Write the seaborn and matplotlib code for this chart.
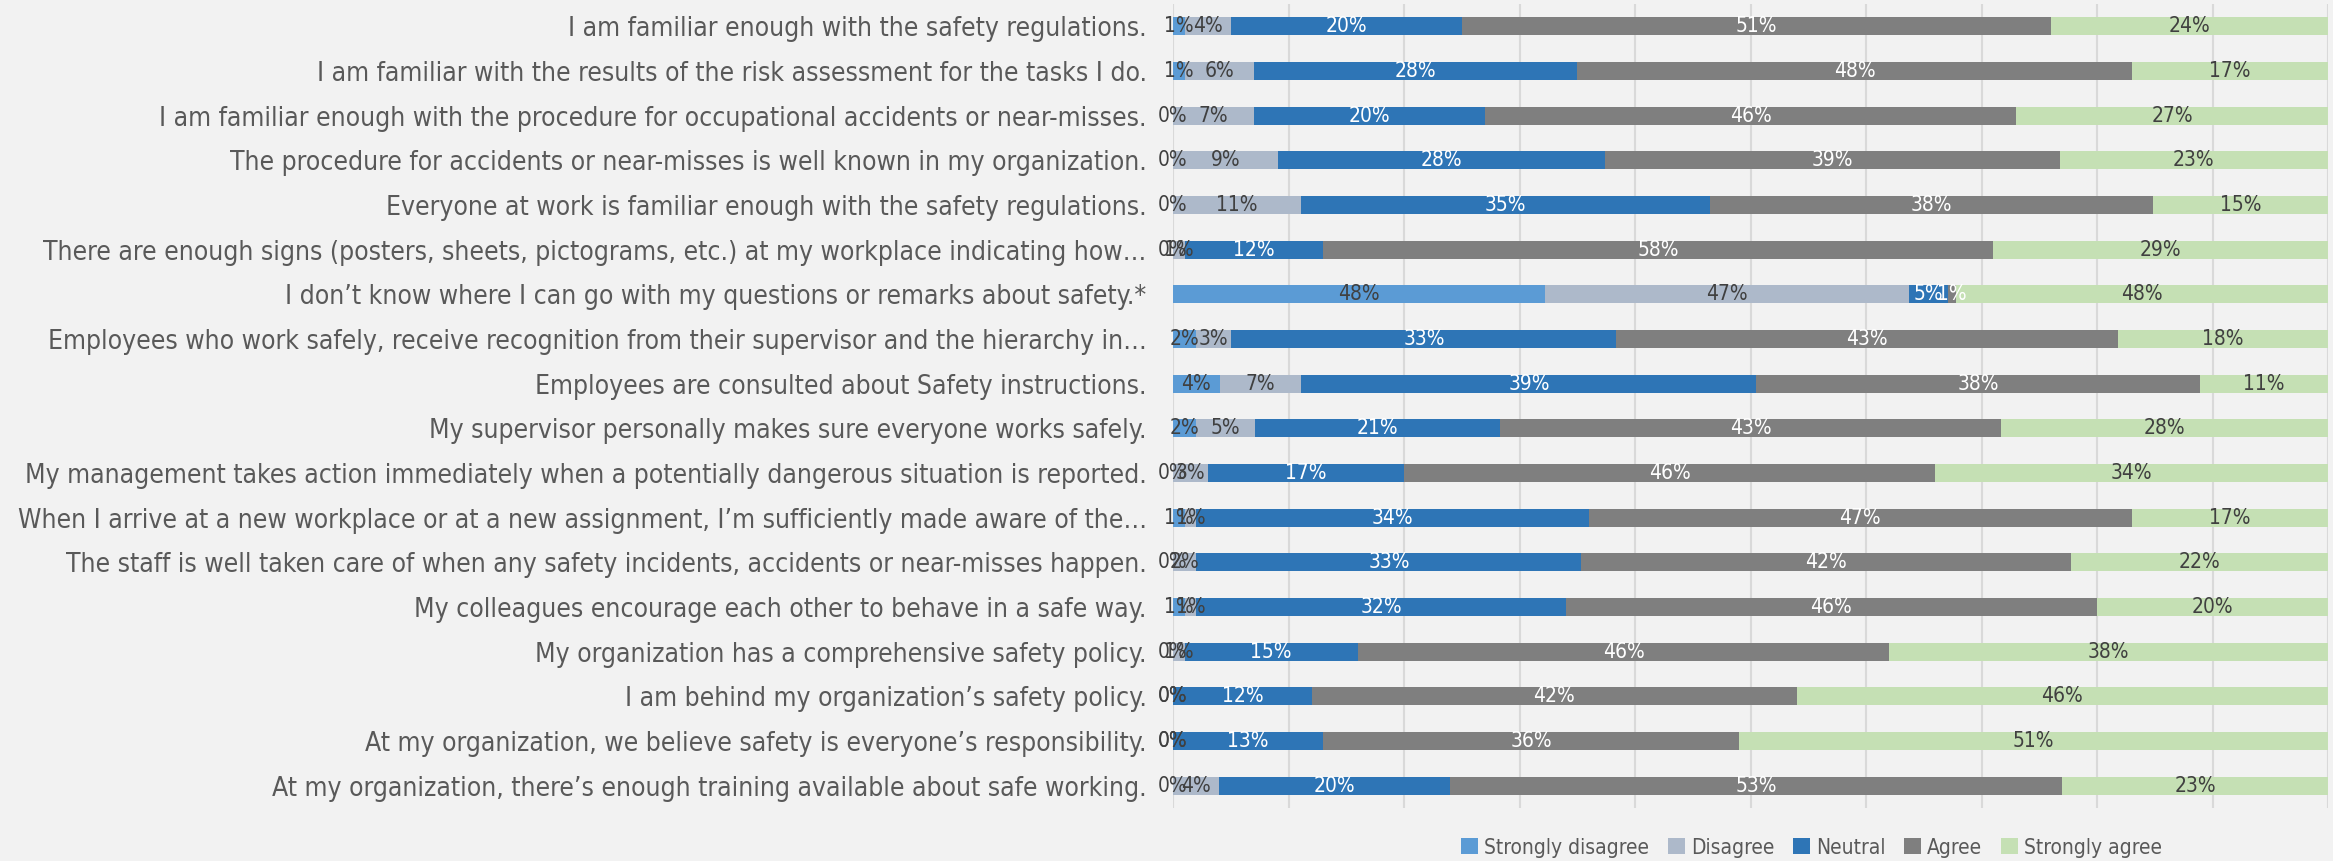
import numpy as np
import matplotlib
matplotlib.use("Agg")
import matplotlib.pyplot as plt
from matplotlib import font_manager
from matplotlib.patches import Patch
import seaborn as sns

# Survey statements, top to bottom
questions = [
    "I am familiar enough with the safety regulations.",
    "I am familiar with the results of the risk assessment for the tasks I do.",
    "I am familiar enough with the procedure for occupational accidents or near-misses.",
    "The procedure for accidents or near-misses is well known in my organization.",
    "Everyone at work is familiar enough with the safety regulations.",
    "There are enough signs (posters, sheets, pictograms, etc.) at my workplace indicating how…",
    "I don’t know where I can go with my questions or remarks about safety.*",
    "Employees who work safely, receive recognition from their supervisor and the hierarchy in…",
    "Employees are consulted about Safety instructions.",
    "My supervisor personally makes sure everyone works safely.",
    "My management takes action immediately when a potentially dangerous situation is reported.",
    "When I arrive at a new workplace or at a new assignment, I’m sufficiently made aware of the…",
    "The staff is well taken care of when any safety incidents, accidents or near-misses happen.",
    "My colleagues encourage each other to behave in a safe way.",
    "My organization has a comprehensive safety policy.",
    "I am behind my organization’s safety policy.",
    "At my organization, we believe safety is everyone’s responsibility.",
    "At my organization, there’s enough training available about safe working.",
]

levels = ["Strongly disagree", "Disagree", "Neutral", "Agree", "Strongly agree"]

# Response percentages per answer level
strongly_disagree = [1, 1, 0, 0, 0, 0, 48, 2, 4, 2, 0, 1, 0, 1, 0, 0, 0, 0]
disagree = [4, 6, 7, 9, 11, 1, 47, 3, 7, 5, 3, 1, 2, 1, 1, 0, 0, 4]
neutral = [20, 28, 20, 28, 35, 12, 5, 33, 39, 21, 17, 34, 33, 32, 15, 12, 13, 20]
agree = [51, 48, 46, 39, 38, 58, 1, 43, 38, 43, 46, 47, 42, 46, 46, 42, 36, 53]
strongly_agree = [24, 17, 27, 23, 15, 29, 48, 18, 11, 28, 34, 17, 22, 20, 38, 46, 51, 23]

colors = ["#5B9BD5", "#ADB9CA", "#2E75B6", "#7F7F7F", "#C5E0B4"]
text_colors = ["#404040", "#404040", "white", "white", "#404040"]
bg = "#F2F2F2"

sns.set_theme(style="white")

# Prefer a narrow face when one is available
fonts = font_manager.fontManager.ttflist
has_condensed = any(f.name == "DejaVu Sans" and f.stretch == "condensed" for f in fonts)
plt.rcParams["font.family"] = ["DejaVu Sans"]
if has_condensed:
    plt.rcParams["font.stretch"] = "condensed"
    label_size, value_size = 19, 15
else:
    label_size, value_size = 17.5, 14

fig = plt.figure(figsize=(23.33, 8.61), dpi=100, facecolor=bg)
ax = fig.add_axes([0.5028, 0.0616, 0.4951, 0.9338])
ax.set_facecolor(bg)

# 100% stacked: each row scaled by its own total
counts = np.array([strongly_disagree, disagree, neutral, agree, strongly_agree], dtype=float)
shares = counts / counts.sum(axis=0)
cum = np.cumsum(shares, axis=0)

# Draw cumulative layers from the widest to the narrowest so they stack visually
for i in reversed(range(len(levels))):
    sns.barplot(x=cum[i], y=questions, color=colors[i], orient="h", width=0.4,
                saturation=1, linewidth=0, ax=ax)

# Value labels centred on each segment
for r in range(len(questions)):
    for i in range(len(levels)):
        cx = cum[i, r] - shares[i, r] / 2
        ax.text(cx, r, f"{counts[i, r]:.0f}%", ha="center", va="center",
                color=text_colors[i], fontsize=value_size)

ax.set_xlim(0, 1)
ax.set_xticks(np.linspace(0, 1, 11))
ax.tick_params(axis="x", labelbottom=False, length=0)
ax.tick_params(axis="y", length=0, pad=19, labelsize=label_size, labelcolor="#595959")
ax.grid(axis="x", color="#D9D9D9", linewidth=1.5)
ax.grid(axis="y", visible=False)
ax.set_axisbelow(True)
ax.set_xlabel("")
ax.set_ylabel("")
for s in ax.spines.values():
    s.set_visible(False)

handles = [Patch(facecolor=c, edgecolor="none", label=l) for c, l in zip(colors, levels)]
fig.legend(handles=handles, loc="center", bbox_to_anchor=(0.7765, 0.0155), ncol=5,
           frameon=False, fontsize=value_size, handlelength=0.8, handleheight=0.8,
           handletextpad=0.3, columnspacing=0.9, labelcolor="#595959")

fig.savefig("out.png", dpi=100, facecolor=bg)
